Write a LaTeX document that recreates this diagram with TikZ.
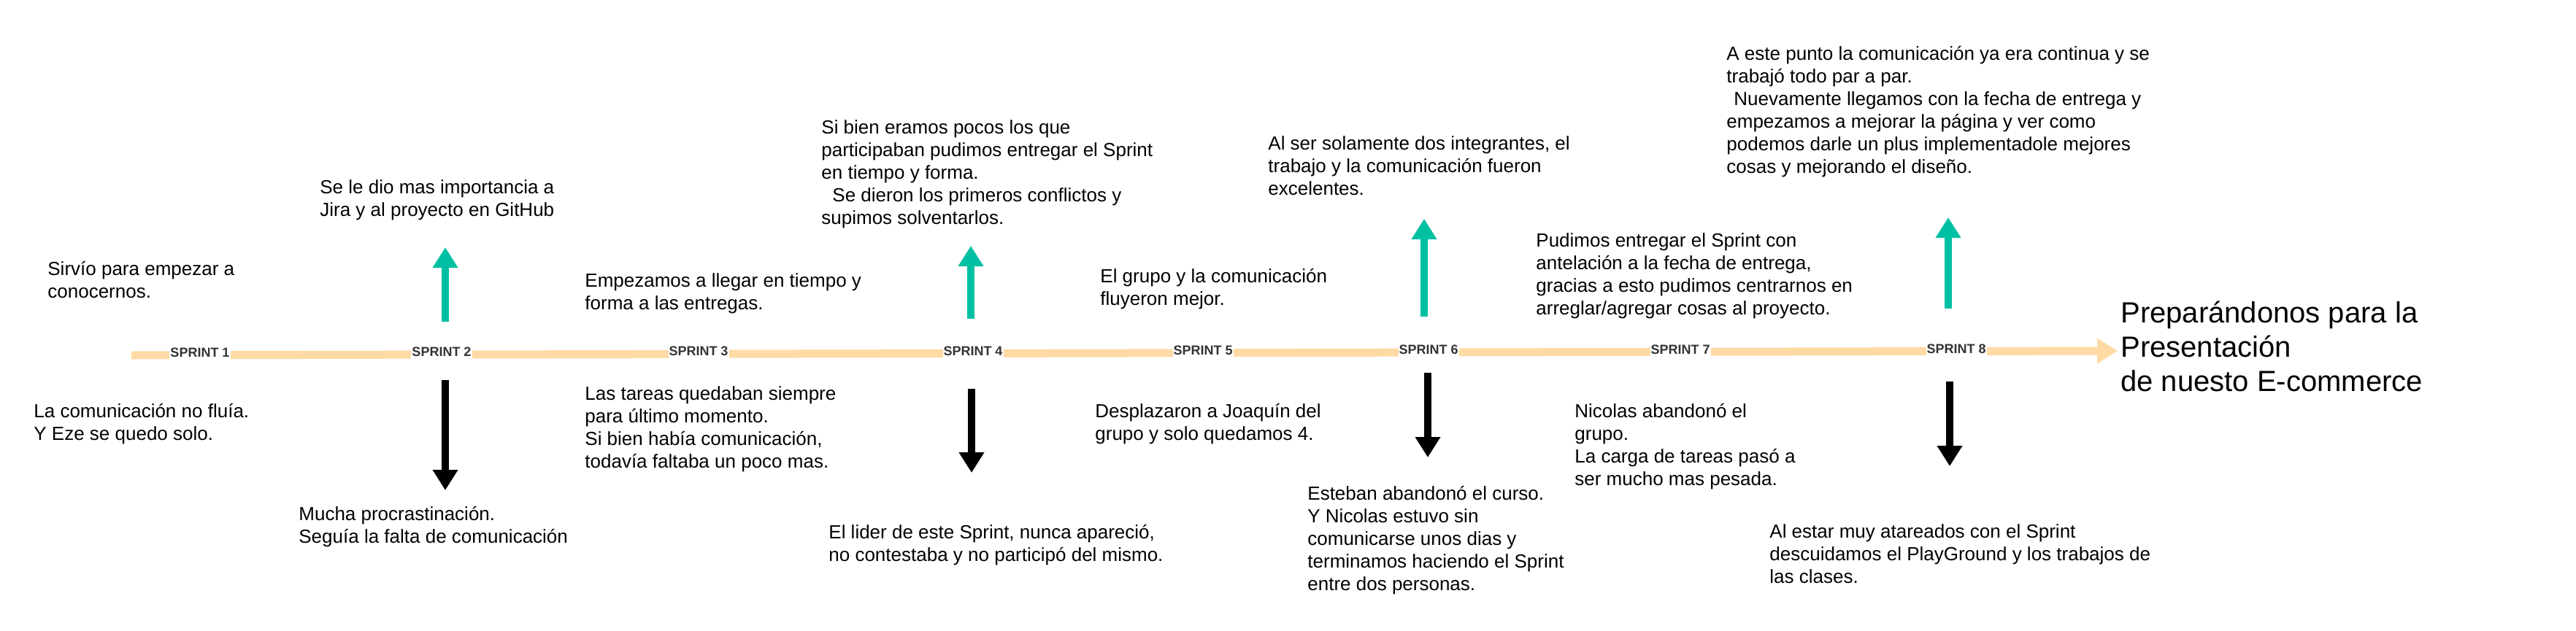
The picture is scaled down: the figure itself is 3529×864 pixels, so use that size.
\documentclass[tikz,border=0pt]{standalone}
\usepackage{fontspec}
\setmainfont{Liberation Sans}
\usetikzlibrary{arrows.meta}
\definecolor{peach}{RGB}{255,218,165}
\definecolor{tealarrow}{RGB}{0,192,163}
\definecolor{lblgray}{RGB}{51,51,51}
\newcommand{\blk}[1]{\begin{tabular}[t]{@{}l@{}}#1\end{tabular}}
\begin{document}
\begin{tikzpicture}[x=0.5pt,y=-0.5pt,
  txt/.style={anchor=base west, inner sep=0pt, font=\fontsize{13}{15.5}\selectfont},
  titletxt/.style={anchor=base west, inner sep=0pt, font=\fontsize{20}{23.5}\selectfont},
  sprintlbl/.style={fill=white, inner xsep=0.5pt, inner ysep=2pt, font=\fontsize{9}{10}\selectfont\bfseries, text=lblgray},
  tip/.style={-{Triangle[length=14pt,width=16.5pt]}},
  uparrow/.style={draw=tealarrow, line width=5pt, tip},
  downarrow/.style={draw=black, line width=5pt, tip},
  timeline/.style={draw=peach, line width=5.5pt, tip},
]
\useasboundingbox (0,0) rectangle (3529,864);
\fill[white] (0,0) rectangle (3529,864);

% timeline
\coordinate (tlA) at (180,487);
\coordinate (tlB) at (2901,481);
\draw[timeline] (tlA) -- (tlB);

% sprint labels
\node[sprintlbl] (s1) at (274,483.3) {SPRINT 1};
\node[sprintlbl] (s2) at (605,482.6) {SPRINT 2};
\node[sprintlbl] (s3) at (957,481.8) {SPRINT 3};
\node[sprintlbl] (s4) at (1333,481.0) {SPRINT 4};
\node[sprintlbl] (s5) at (1648,480.3) {SPRINT 5};
\node[sprintlbl] (s6) at (1957,479.6) {SPRINT 6};
\node[sprintlbl] (s7) at (2302,478.8) {SPRINT 7};
\node[sprintlbl] (s8) at (2680,478.0) {SPRINT 8};

% up arrows
\coordinate (u2a) at (610,441);  \coordinate (u2b) at (610,339);
\coordinate (u4a) at (1330,437); \coordinate (u4b) at (1330,337);
\coordinate (u6a) at (1951,434); \coordinate (u6b) at (1951,300);
\coordinate (u8a) at (2669,423); \coordinate (u8b) at (2669,298);
\draw[uparrow] (u2a) -- (u2b);
\draw[uparrow] (u4a) -- (u4b);
\draw[uparrow] (u6a) -- (u6b);
\draw[uparrow] (u8a) -- (u8b);

% down arrows
\coordinate (d2a) at (610,521);  \coordinate (d2b) at (610,672);
\coordinate (d4a) at (1331,533); \coordinate (d4b) at (1331,648);
\coordinate (d6a) at (1956,511); \coordinate (d6b) at (1956,627);
\coordinate (d8a) at (2671,523); \coordinate (d8b) at (2671,639);
\draw[downarrow] (d2a) -- (d2b);
\draw[downarrow] (d4a) -- (d4b);
\draw[downarrow] (d6a) -- (d6b);
\draw[downarrow] (d8a) -- (d8b);

% upper texts
\node[txt] (t1) at (65,377) {\blk{Sirvío para empezar a\\conocernos.}};
\node[txt] (t2) at (438,265) {\blk{Se le dio mas importancia a\\Jira y al proyecto en GitHub}};
\node[txt] (t3) at (801,393) {\blk{Empezamos a llegar en tiempo y\\forma a las entregas.}};
\node[txt] (t4) at (1125,183) {\blk{Si bien eramos pocos los que\\participaban pudimos entregar el Sprint\\en tiempo y forma.\\\hspace*{7.5pt}Se dieron los primeros conflictos y\\supimos solventarlos.}};
\node[txt] (t5) at (1507,387) {\blk{El grupo y la comunicación\\fluyeron mejor.}};
\node[txt] (t6) at (1737,205) {\blk{Al ser solamente dos integrantes, el\\trabajo y la comunicación fueron\\excelentes.}};
\node[txt] (t7) at (2104,338) {\blk{Pudimos entregar el Sprint con\\antelación a la fecha de entrega,\\gracias a esto pudimos centrarnos en\\arreglar/agregar cosas al proyecto.}};
\node[txt] (t8) at (2365,82) {\blk{A este punto la comunicación ya era continua y se\\trabajó todo par a par.\\\hspace*{5pt}Nuevamente llegamos con la fecha de entrega y\\empezamos a mejorar la página y ver como\\podemos darle un plus implementadole mejores\\cosas y mejorando el diseño.}};

% lower texts
\node[txt] (b1) at (46,572) {\blk{La comunicación no fluía.\\Y Eze se quedo solo.}};
\node[txt] (b2) at (409,713) {\blk{Mucha procrastinación.\\Seguía la falta de comunicación}};
\node[txt] (b3) at (801,548) {\blk{Las tareas quedaban siempre\\para último momento.\\Si bien había comunicación,\\todavía faltaba un poco mas.}};
\node[txt] (b4) at (1135,738) {\blk{El lider de este Sprint, nunca apareció,\\no contestaba y no participó del mismo.}};
\node[txt] (b5) at (1500,572) {\blk{Desplazaron a Joaquín del\\grupo y solo quedamos 4.}};
\node[txt] (b6) at (1791,685) {\blk{Esteban abandonó el curso.\\Y Nicolas estuvo sin\\comunicarse unos dias y\\terminamos haciendo el Sprint\\entre dos personas.}};
\node[txt] (b7) at (2157,572) {\blk{Nicolas abandonó el\\grupo.\\La carga de tareas pasó a\\ser mucho mas pesada.}};
\node[txt] (b8) at (2424,737) {\blk{Al estar muy atareados con el Sprint\\descuidamos el PlayGround y los trabajos de\\las clases.}};

% title
\node[titletxt] (title) at (2905,442) {\blk{Preparándonos para la\\Presentación\\de nuesto E-commerce}};
\end{tikzpicture}
\end{document}
